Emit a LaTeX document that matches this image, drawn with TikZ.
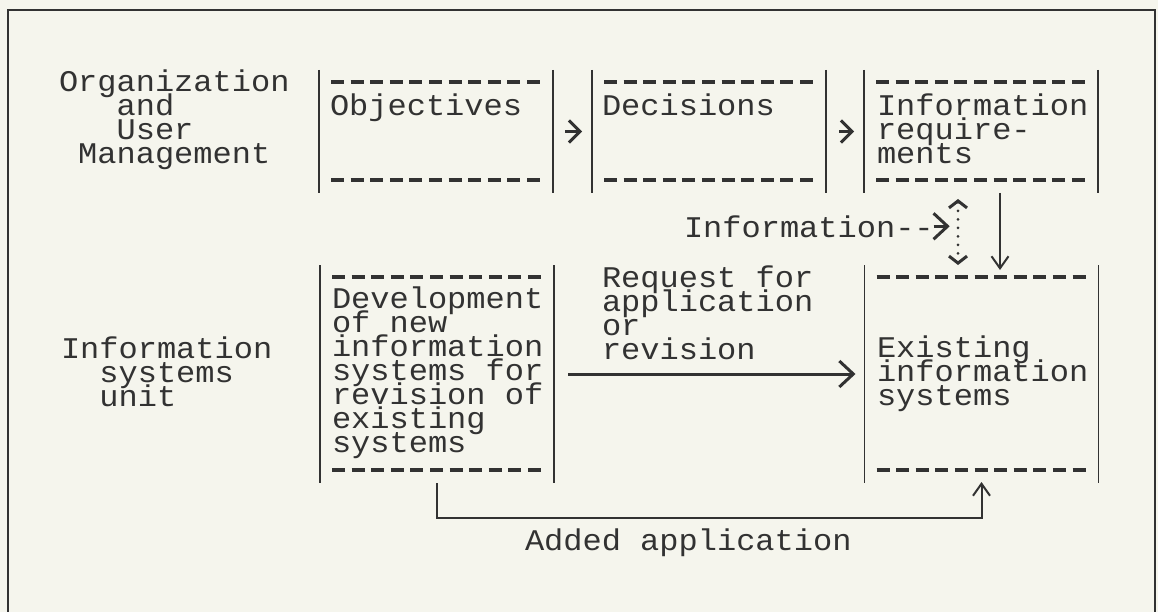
\documentclass[tikz,border=0pt]{standalone}
\usepackage{fontspec}
\setmonofont{Liberation Mono}[FakeStretch=1.067]
\usetikzlibrary{arrows.meta}
\definecolor{paper}{RGB}{245,245,237}
\definecolor{ink}{RGB}{50,50,50}
\newcommand{\tightlines}{\lineskiplimit=-100pt\relax\lineskip=0pt\relax}
\begin{document}
\begin{tikzpicture}[x=1pt,y=-1pt,
  every node/.style={inner sep=0pt, outer sep=0pt, text=ink,
    font=\ttfamily\fontsize{30}{24}\selectfont\tightlines},
  lbl/.style={anchor=base west, align=left},
  boxarea/.style={minimum width=234pt},
  barline/.style={draw=ink, line width=1.8pt},
  dashline/.style={draw=ink, line width=3.2pt, dash pattern=on 13pt off 6.6pt},
  chev/.style={draw=ink, line width=3pt, -{Straight Barb[length=11pt,width=22pt]}},
  chevbig/.style={draw=ink, line width=3pt, -{Straight Barb[length=14pt,width=26pt]}},
  thinarrow/.style={draw=ink, line width=2pt, -{Straight Barb[length=12pt,width=17pt]}},
  dotarrow/.style={draw=ink, line width=3pt, line cap=round, dash pattern=on 0pt off 8.5pt,
    {Straight Barb[length=7pt,width=18pt]}-{Straight Barb[length=7pt,width=18pt]}},
  frameline/.style={draw=ink, line width=2.2pt}
]
\fill[paper] (0,0) rectangle (1158,612);
\useasboundingbox (0,0) rectangle (1158,612);
\draw[frameline] (8,616) -- (8,10) -- (1155,10) -- (1155,616);

% boxes
\node[boxarea, minimum height=123pt] (obj) at (436,131.5) {};
\node[boxarea, minimum height=123pt] (dec) at (709,131.5) {};
\node[boxarea, minimum height=123pt] (inf) at (981,131.5) {};
\node[boxarea, minimum height=218pt] (dev) at (437,374) {};
\node[boxarea, minimum height=218pt] (exi) at (981.5,374) {};

\foreach \b in {obj,dec,inf,dev,exi} {
  \draw[barline] (\b.north west) -- (\b.south west) (\b.north east) -- (\b.south east);
  \draw[dashline] ([xshift=12pt,yshift=-12pt]\b.north west) -- ([xshift=-13pt,yshift=-12pt]\b.north east);
  \draw[dashline] ([xshift=12pt,yshift=13pt]\b.south west) -- ([xshift=-13pt,yshift=13pt]\b.south east);
}

% texts (multi-line nodes are anchored at the baseline of their last line)
\node[lbl] (orgL) at (59,164) {Organization\\\phantom{xxx}and\\\phantom{xxx}User\\\phantom{x}Management};
\node[lbl] (isuL) at (61,406) {Information\\\phantom{xx}systems\\\phantom{xx}unit};
\node[lbl] (objT) at (330,116) {Objectives};
\node[lbl] (decT) at (602,116) {Decisions};
\node[lbl] (infT) at (877,164) {Information\\require-\\ments};
\node[lbl] (devT) at (332,452) {Development\\of new\\information\\systems for\\revision of\\existing\\systems};
\node[lbl] (reqT) at (602,359) {Request for\\application\\or\\revision};
\node[lbl] (exiT) at (877,405) {Existing\\information\\systems};
\node[lbl] (infolab) at (684,237) {Information-{}-};
\node[lbl] (addT) at (525,550) {Added application};

% connectors
\draw[chev] ([xshift=12pt]obj.east) -- ([xshift=-10pt]dec.west);
\draw[chev] ([xshift=13pt]dec.east) -- ([xshift=-10pt]inf.west);
\draw[thinarrow] ([xshift=19pt]inf.south) -- ([xshift=18.5pt,yshift=-5pt]exi.north);
\draw[dotarrow] ([xshift=-23pt,yshift=-6pt]inf.south) -- ([xshift=-23.5pt]exi.north);
\draw[chevbig] (infolab.east) -- ++(16,0);
\draw[chevbig] ([xshift=14pt]dev.east) -- ([xshift=-9pt]exi.west);
\draw[thinarrow] (dev.south) -- ++(0,35) -| ([yshift=1pt]exi.south);
\end{tikzpicture}
\end{document}
